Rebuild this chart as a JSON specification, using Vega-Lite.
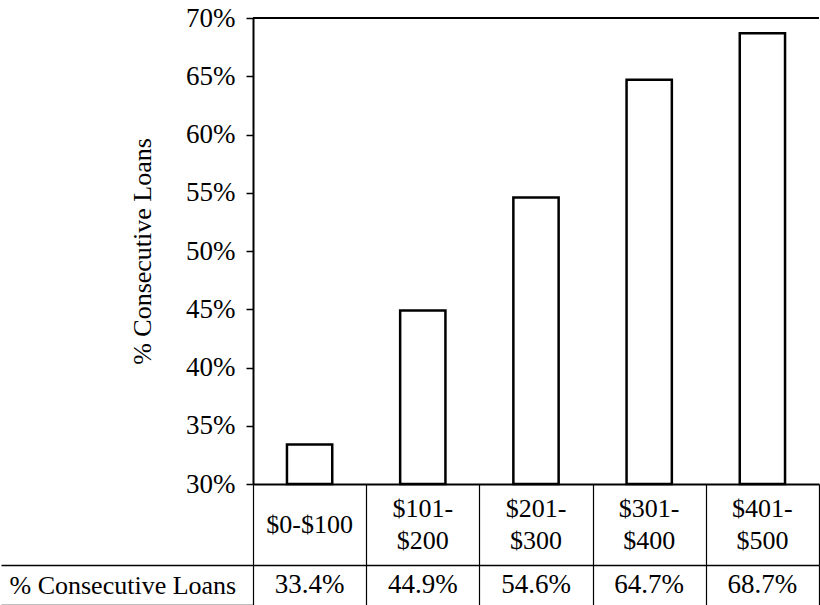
{
  "$schema": "https://vega.github.io/schema/vega-lite/v6.json",
  "padding": {"left": 0, "right": 0, "top": 4, "bottom": 0},
  "background": "white",
  "spacing": 0,
  "bounds": "flush",
  "datasets": {
    "loans": [
      {"range": "$0-$100", "label": "$0-$100", "value": 33.4, "pct": "33.4%", "rowname": "% Consecutive Loans"},
      {"range": "$101-$200", "label": "$101-\n$200", "value": 44.9, "pct": "44.9%", "rowname": "% Consecutive Loans"},
      {"range": "$201-$300", "label": "$201-\n$300", "value": 54.6, "pct": "54.6%", "rowname": "% Consecutive Loans"},
      {"range": "$301-$400", "label": "$301-\n$400", "value": 64.7, "pct": "64.7%", "rowname": "% Consecutive Loans"},
      {"range": "$401-$500", "label": "$401-\n$500", "value": 68.7, "pct": "68.7%", "rowname": "% Consecutive Loans"}
    ]
  },
  "resolve": {"scale": {"x": "independent", "y": "independent"}},
  "config": {
    "font": "Liberation Serif",
    "view": {"stroke": null},
    "axis": {
      "labelFont": "Liberation Serif",
      "titleFont": "Liberation Serif",
      "labelColor": "black",
      "titleColor": "black",
      "titleFontWeight": "normal",
      "domainColor": "black",
      "tickColor": "black",
      "labelLimit": 400
    }
  },
  "vconcat": [
    {
      "width": 566,
      "height": 466,
      "data": {"name": "loans"},
      "layer": [
        {
          "mark": {"type": "bar", "fill": "white", "stroke": "black", "strokeWidth": 2.5},
          "encoding": {
            "x": {
              "field": "range", "type": "nominal", "sort": null,
              "scale": {"paddingInner": 0.6, "paddingOuter": 0.3},
              "axis": {"title": null, "labels": false, "ticks": false, "domain": true, "domainWidth": 2, "grid": false}
            },
            "y": {
              "field": "value", "type": "quantitative",
              "scale": {"domain": [30, 70], "zero": false, "nice": false},
              "axis": {
                "title": "% Consecutive Loans",
                "titleFontSize": 26,
                "titlePadding": 30,
                "values": [30, 35, 40, 45, 50, 55, 60, 65, 70],
                "labelExpr": "datum.value + '%'",
                "labelFontSize": 27,
                "labelPadding": 11,
                "tickSize": 7,
                "tickWidth": 1.5,
                "domainWidth": 2,
                "grid": false
              }
            },
            "y2": {"datum": 30}
          }
        },
        {
          "mark": {"type": "rule", "stroke": "black", "strokeWidth": 2},
          "encoding": {"y": {"datum": 70, "type": "quantitative"}}
        }
      ]
    },
    {
      "width": 566,
      "height": 81,
      "data": {"name": "loans"},
      "encoding": {
        "x": {
          "field": "range", "type": "nominal", "sort": null,
          "scale": {"paddingInner": 0, "paddingOuter": 0},
          "axis": {"title": null, "orient": "top", "labels": false, "ticks": false, "domain": false, "grid": true, "tickBand": "extent", "gridColor": "black", "gridWidth": 1.2, "gridOpacity": 1}
        },
        "text": {"field": "label", "type": "nominal"}
      },
      "layer": [
        {
          "transform": [{"filter": "indexof(datum.label, '\\n') < 0"}],
          "mark": {"type": "text", "fontSize": 26, "color": "black", "baseline": "middle"}
        },
        {
          "transform": [{"filter": "indexof(datum.label, '\\n') >= 0"}],
          "mark": {"type": "text", "fontSize": 26, "lineBreak": "\n", "lineHeight": 32, "color": "black", "baseline": "middle", "dy": -16}
        }
      ]
    },
    {
      "width": 566,
      "height": 40,
      "data": {"name": "loans"},
      "mark": {"type": "text", "fontSize": 27, "color": "black", "baseline": "middle"},
      "encoding": {
        "x": {
          "field": "range", "type": "nominal", "sort": null,
          "scale": {"paddingInner": 0, "paddingOuter": 0},
          "axis": {"title": null, "orient": "top", "labels": false, "ticks": false, "domain": true, "domainWidth": 1.5, "grid": true, "tickBand": "extent", "gridColor": "black", "gridWidth": 1.2, "gridOpacity": 1}
        },
        "y": {
          "field": "rowname", "type": "nominal",
          "scale": {"paddingInner": 0, "paddingOuter": 0},
          "axis": {"title": null, "domain": false, "ticks": true, "tickBand": "extent", "tickSize": 252, "tickWidth": 1.5, "labelAlign": "left", "labelPadding": -8, "labelFontSize": 26, "grid": false}
        },
        "text": {"field": "pct", "type": "nominal"}
      }
    }
  ]
}
